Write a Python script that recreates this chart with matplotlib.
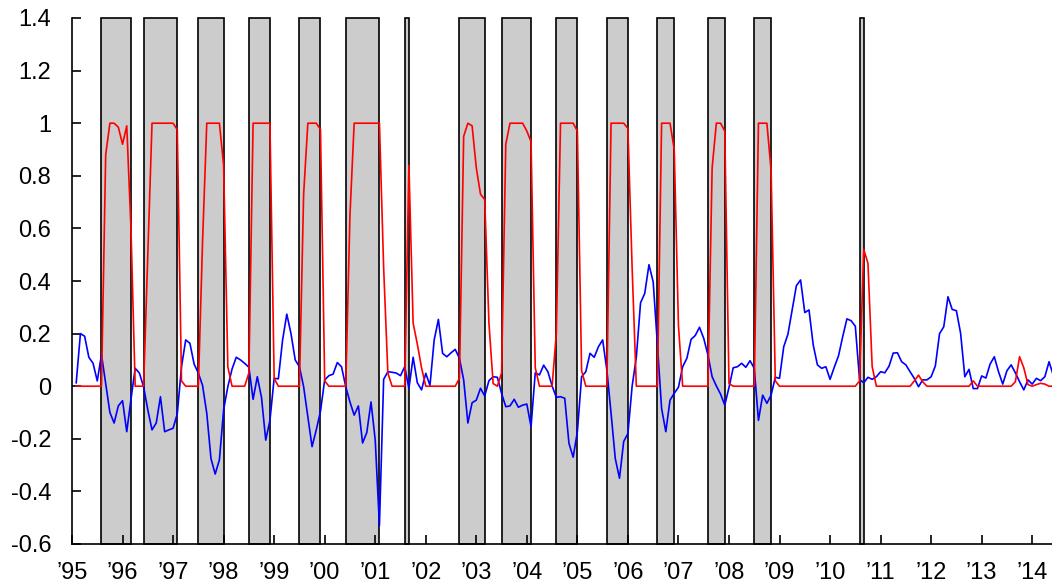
import numpy as np
import matplotlib
matplotlib.use('Agg')
import matplotlib.pyplot as plt

plt.rcParams['font.family'] = ['Liberation Sans', 'DejaVu Sans']
plt.rcParams['axes.unicode_minus'] = False

# monthly series, first value is Feb 1995
start_year = 1995

blue = [
    0.013, 0.20, 0.19, 0.11, 0.087, 0.02, 0.12, 0.01, -0.10, -0.14,
    -0.075, -0.055, -0.173, -0.05, 0.068, 0.05, -0.002, -0.09, -0.166, -0.14,
    -0.04, -0.173, -0.166, -0.16, -0.105, 0.074, 0.176, 0.163, 0.084, 0.05,
    0.003, -0.103, -0.275, -0.334, -0.28, -0.09, -0.002, 0.065, 0.11, 0.10,
    0.087, 0.072, -0.05, 0.036, -0.043, -0.205, -0.13, 0.03, 0.028, 0.175,
    0.274, 0.20, 0.10, 0.074, -0.002, -0.115, -0.23, -0.166, -0.096, 0.024,
    0.04, 0.046, 0.09, 0.074, -0.002, -0.06, -0.11, -0.075, -0.216, -0.176,
    -0.06, -0.205, -0.53, 0.026, 0.055, 0.053, 0.05, 0.04, 0.074, -0.008,
    0.11, 0.013, -0.014, 0.049, 0.003, 0.176, 0.254, 0.125, 0.112, 0.127,
    0.14, 0.106, 0.024, -0.14, -0.063, -0.053, -0.008, -0.037, 0.021, 0.036,
    0.034, -0.027, -0.078, -0.075, -0.05, -0.08, -0.072, -0.068, -0.154, 0.051,
    0.043, 0.08, 0.055, 0.001, -0.042, -0.04, -0.046, -0.217, -0.27, -0.173,
    0.036, 0.055, 0.125, 0.11, 0.15, 0.176, 0.062, -0.103, -0.275, -0.35,
    -0.21, -0.18, 0.0, 0.11, 0.317, 0.353, 0.462, 0.397, 0.16, -0.085,
    -0.173, -0.053, -0.027, -0.004, 0.074, 0.106, 0.178, 0.193, 0.224, 0.182,
    0.119, 0.036, 0.001, -0.03, -0.072, -0.005, 0.07, 0.074, 0.087, 0.072,
    0.097, 0.068, -0.13, -0.034, -0.065, -0.034, 0.034, 0.03, 0.15, 0.198,
    0.29, 0.382, 0.404, 0.28, 0.29, 0.157, 0.081, 0.068, 0.074, 0.026,
    0.072, 0.115, 0.188, 0.256, 0.249, 0.228, 0.026, 0.013, 0.034, 0.026,
    0.036, 0.055, 0.051, 0.076, 0.126, 0.127, 0.093, 0.081, 0.055, 0.03,
    -0.002, 0.024, 0.024, 0.036, 0.077, 0.2, 0.226, 0.34, 0.292, 0.287,
    0.201, 0.036, 0.064, -0.009, -0.009, 0.039, 0.031, 0.084, 0.112, 0.055,
    0.008, 0.059, 0.081, 0.051, 0.017, -0.014, 0.024, 0.008, 0.03, 0.021,
    0.036, 0.093, 0.042,
]

red = [
    0, 0, 0, 0, 0, 0, 0, 0.88, 1.0, 1.0,
    0.985, 0.92, 0.99, 0.6, 0, 0, 0, 0.5, 1.0, 1.0,
    1.0, 1.0, 1.0, 1.0, 0.975, 0.02, 0, 0, 0, 0,
    0.55, 1.0, 1.0, 1.0, 1.0, 0.84, 0.074, 0, 0, 0,
    0, 0.05, 1.0, 1.0, 1.0, 1.0, 1.0, 0.03, 0, 0,
    0, 0, 0, 0, 0.73, 1.0, 1.0, 1.0, 0.976, 0.02,
    0, 0, 0, 0, 0, 0.65, 1.0, 1.0, 1.0, 1.0,
    1.0, 1.0, 1.0, 0.45, 0.05, 0, 0, 0, 0, 0.84,
    0.24, 0.16, 0.07, 0, 0, 0, 0, 0, 0, 0,
    0, 0.03, 0.95, 1.0, 0.99, 0.83, 0.73, 0.71, 0.24, 0.01,
    0, 0.05, 0.92, 1.0, 1.0, 1.0, 1.0, 0.97, 0.93, 0.07,
    0, 0, 0, 0, 0.2, 1.0, 1.0, 1.0, 1.0, 0.97,
    0.06, 0, 0, 0, 0, 0, 0, 1.0, 1.0, 1.0,
    1.0, 0.98, 0.45, 0, 0, 0, 0, 0, 0, 1.0,
    1.0, 1.0, 0.9, 0.23, 0, 0, 0, 0, 0, 0,
    0, 0.83, 1.0, 1.0, 0.97, 0.01, 0, 0, 0, 0,
    0, 0, 1.0, 1.0, 1.0, 0.82, 0.02, 0, 0, 0,
    0, 0, 0, 0, 0, 0, 0, 0, 0, 0,
    0, 0, 0, 0, 0, 0, 0.02, 0.52, 0.467, 0.074,
    0, 0, 0, 0, 0, 0, 0, 0, 0, 0.02,
    0.042, 0.017, 0, 0, 0, 0, 0, 0, 0, 0,
    0, 0, 0, 0.02, 0, 0, 0, 0, 0, 0,
    0, 0, 0, 0.017, 0.112, 0.07, 0.006, 0, 0.006, 0.011,
    0.008, 0, 0,
]

# shaded periods (fractional years)
bar_start = [1995.583, 1996.417, 1997.5, 1998.5, 1999.5, 2000.417, 2001.583,
             2002.667, 2003.5, 2004.583, 2005.583, 2006.583, 2007.583,
             2008.5, 2010.583]
bar_end = [1996.167, 1997.083, 1998.0, 1998.917, 1999.917, 2001.083, 2001.667,
           2003.167, 2004.083, 2005.0, 2006.0, 2006.917, 2007.917,
           2008.833, 2010.667]

year_ticks = list(range(1995, 2015))
year_labels = ['’95', '’96', '’97', '’98', '’99', '’00', '’01', '’02', '’03',
               '’04', '’05', '’06', '’07', '’08', '’09', '’10', '’11', '’12',
               '’13', '’14']
y_ticks = [-0.6, -0.4, -0.2, 0, 0.2, 0.4, 0.6, 0.8, 1.0, 1.2, 1.4]
y_labels = ['-0.6', '-0.4', '-0.2', '0', '0.2', '0.4', '0.6', '0.8', '1',
            '1.2', '1.4']
y_min, y_max = -0.6, 1.4

month = np.arange(1, len(blue) + 1)
t = start_year + month / 12

fig = plt.figure(figsize=(10.52, 5.84), dpi=100)
ax = fig.add_axes([72 / 1052, 40 / 584, 980 / 1052, 526 / 584])

widths = np.array(bar_end) - np.array(bar_start)
ax.bar(bar_start, y_max - y_min, width=widths, bottom=y_min, align='edge',
       color='#cccccc', edgecolor='black', linewidth=1.2, clip_on=False, zorder=1)
ax.plot(t, blue, color='#0000ff', lw=1.2, zorder=2)
ax.plot(t, red, color='#ff0000', lw=1.2, zorder=3)

ax.set_xlim(1995, 1995 + 232.7 / 12)
ax.set_ylim(y_min, y_max)
ax.set_xticks(year_ticks)
ax.set_xticklabels(year_labels)
ax.set_yticks(y_ticks)
ax.set_yticklabels(y_labels)

ax.spines['top'].set_visible(False)
ax.spines['right'].set_visible(False)
ax.spines['left'].set_linewidth(1.2)
ax.spines['bottom'].set_linewidth(1.2)
ax.tick_params(direction='in', length=6.5, width=1.2, labelsize=17,
               top=False, right=False)
ax.tick_params(axis='y', pad=15)
ax.tick_params(axis='x', pad=13)

fig.savefig('out.png', dpi=100)
